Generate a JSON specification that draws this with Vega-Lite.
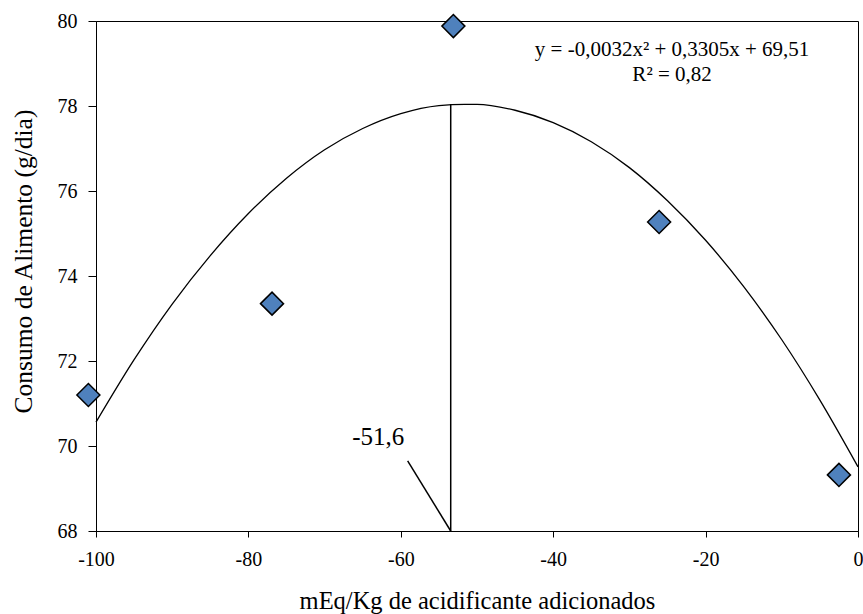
{
  "$schema": "https://vega.github.io/schema/vega-lite/v6.json",
  "width": 762,
  "height": 510,
  "autosize": {"type": "none"},
  "padding": {"left": 96, "top": 21, "right": 5, "bottom": 83},
  "background": "white",
  "config": {
    "view": {"stroke": "black", "strokeWidth": 1},
    "font": "Liberation Serif",
    "axis": {
      "grid": false,
      "domainColor": "black",
      "domainWidth": 1,
      "tickColor": "black",
      "tickWidth": 1,
      "labelColor": "black",
      "titleColor": "black",
      "labelFont": "Liberation Serif",
      "titleFont": "Liberation Serif",
      "labelFontSize": 20,
      "titleFontSize": 24.5,
      "titleFontWeight": "normal"
    }
  },
  "datasets": {
    "points": [
      {"x": -101, "y": 71.2},
      {"x": -76.9, "y": 73.35},
      {"x": -53.1, "y": 79.88},
      {"x": -26.1, "y": 75.27},
      {"x": -2.5, "y": 69.32}
    ],
    "curve": [
      {"x": -100, "y": 70.56},
      {"x": -95, "y": 72.03},
      {"x": -90, "y": 73.34},
      {"x": -85, "y": 74.48},
      {"x": -80, "y": 75.47},
      {"x": -75, "y": 76.3},
      {"x": -70, "y": 76.97},
      {"x": -65, "y": 77.47},
      {"x": -60, "y": 77.82},
      {"x": -55, "y": 78.01},
      {"x": -51.6, "y": 78.04},
      {"x": -50, "y": 78.04},
      {"x": -45, "y": 77.9},
      {"x": -40, "y": 77.61},
      {"x": -35, "y": 77.16},
      {"x": -30, "y": 76.55},
      {"x": -25, "y": 75.77},
      {"x": -20, "y": 74.84},
      {"x": -15, "y": 73.75},
      {"x": -10, "y": 72.5},
      {"x": -5, "y": 71.08},
      {"x": 0, "y": 69.51}
    ],
    "segments": [
      {"x": -53.45, "y": 68, "x2": -53.45, "y2": 78.05},
      {"x": -59.1, "y": 69.65, "x2": -53.45, "y2": 68}
    ],
    "notes": [
      {"x": -24.4, "y": 79.32, "label": "y = -0,0032x² + 0,3305x + 69,51"},
      {"x": -24.4, "y": 78.73, "label": "R² = 0,82"}
    ],
    "vertex": [
      {"x": -62.95, "y": 70.22, "label": "-51,6"}
    ]
  },
  "layer": [
    {
      "data": {"name": "curve"},
      "mark": {"type": "line", "color": "black", "strokeWidth": 1.3, "interpolate": "monotone"},
      "encoding": {
        "x": {
          "field": "x", "type": "quantitative",
          "scale": {"domain": [-100, 0], "nice": false, "zero": false},
          "title": "mEq/Kg de acidificante adicionados",
          "axis": {"values": [-100, -80, -60, -40, -20, 0], "tickSize": 6, "labelPadding": 12, "titlePadding": 20, "labelExpr": "'' + datum.value", "labelFlush": false}
        },
        "y": {
          "field": "y", "type": "quantitative",
          "scale": {"domain": [68, 80], "nice": false, "zero": false},
          "title": "Consumo de Alimento (g/dia)",
          "axis": {"values": [68, 70, 72, 74, 76, 78, 80], "tickSize": 8, "labelPadding": 11, "titlePadding": 21, "titleY": 240, "titleFontSize": 25.5}
        }
      }
    },
    {
      "data": {"name": "segments"},
      "mark": {"type": "rule", "color": "black", "strokeWidth": 1.5},
      "encoding": {
        "x": {"field": "x", "type": "quantitative"},
        "y": {"field": "y", "type": "quantitative"},
        "x2": {"field": "x2"},
        "y2": {"field": "y2"}
      }
    },
    {
      "data": {"name": "points"},
      "mark": {"type": "point", "shape": "diamond", "size": 530, "filled": true, "fill": "#4F81BD", "stroke": "black", "strokeWidth": 1.5, "opacity": 1},
      "encoding": {
        "x": {"field": "x", "type": "quantitative"},
        "y": {"field": "y", "type": "quantitative"}
      }
    },
    {
      "data": {"name": "notes"},
      "mark": {"type": "text", "font": "Liberation Serif", "fontSize": 21, "align": "center", "baseline": "middle", "color": "black"},
      "encoding": {
        "x": {"field": "x", "type": "quantitative"},
        "y": {"field": "y", "type": "quantitative"},
        "text": {"field": "label"}
      }
    },
    {
      "data": {"name": "vertex"},
      "mark": {"type": "text", "font": "Liberation Serif", "fontSize": 25, "align": "center", "baseline": "middle", "color": "black"},
      "encoding": {
        "x": {"field": "x", "type": "quantitative"},
        "y": {"field": "y", "type": "quantitative"},
        "text": {"field": "label"}
      }
    }
  ]
}
